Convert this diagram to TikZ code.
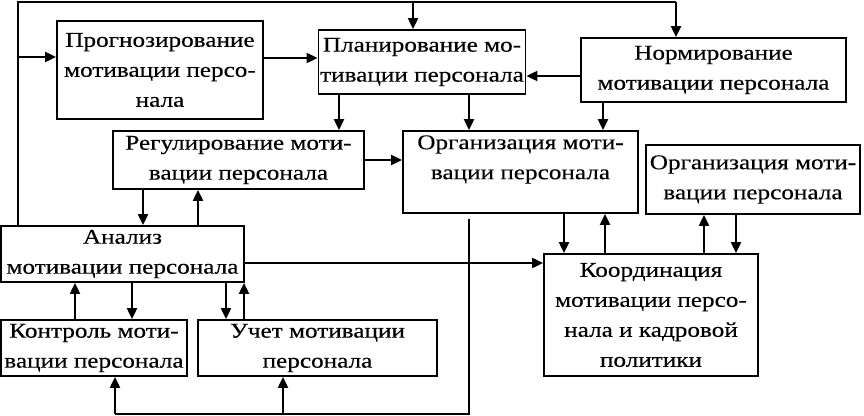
\documentclass[tikz,border=0pt]{standalone}
\usepackage{fontspec}
\setmainfont{Liberation Serif}[FakeStretch=1.2,FakeBold=0.3]
\usetikzlibrary{arrows.meta}
\begin{document}
\begin{tikzpicture}[x=1pt,y=-1pt,
  box/.style={draw,line width=1.8pt,inner sep=0pt,align=center,font=\fontsize{21}{30}\selectfont},
  txt/.style={inner sep=0pt,align=center,font=\fontsize{21}{30}\selectfont},
  conn/.style={line width=2pt},
  arr/.style={line width=2pt,-{Triangle[length=11pt,width=10pt]}}]
\useasboundingbox (0,0) rectangle (864,415);
% boxes
\node[box,minimum width=206pt,minimum height=98pt] (prog) at (160,70) {Прогнозирование\\мотивации персо-\\нала};
\node[box,minimum width=207pt,minimum height=64pt] (plan) at (422,62) {Планирование мо-\\тивации персонала};
\node[box,minimum width=265pt,minimum height=64pt] (norm) at (713.5,70) {Нормирование\\мотивации персонала};
\node[box,minimum width=251pt,minimum height=58pt] (reg) at (238.5,160) {Регулирование моти-\\вации персонала};
\node[box,minimum width=235pt,minimum height=82pt] (orgc) at (520.5,172) {};
\node[txt,anchor=north] (orgct) at ([yshift=-5pt]orgc.north) {Организация моти-\\вации персонала};
\node[box,minimum width=214pt,minimum height=69pt] (orgr) at (753,179.5) {Организация моти-\\вации персонала};
\node[box,minimum width=243pt,minimum height=56pt] (anal) at (122.5,254) {Анализ\\мотивации персонала};
\node[box,minimum width=214pt,minimum height=122pt] (koord) at (651,315) {Координация\\мотивации персо-\\нала и кадровой\\политики};
\node[box,minimum width=186pt,minimum height=56pt] (kontr) at (94,348) {Контроль моти-\\вации персонала};
\node[box,minimum width=239pt,minimum height=56pt] (uchet) at (317.5,348) {Учет мотивации\\персонала};
% helper coordinates
\coordinate (tl) at (18,2);
\coordinate (tr) at (676,2);
\coordinate (tm) at (413,2);
\coordinate (yprog) at (0,57);
\coordinate (ypp) at (0,58);
\coordinate (ynp) at (0,76);
\coordinate (xpr) at (339,0);
\coordinate (xpo) at (469,0);
\coordinate (xno) at (603,0);
\coordinate (xra) at (143,0);
\coordinate (xar) at (198,0);
\coordinate (yak) at (0,263);
\coordinate (xak) at (132,0);
\coordinate (xka) at (75,0);
\coordinate (xau) at (226,0);
\coordinate (xua) at (244,0);
\coordinate (gs) at (469,219);
\coordinate (gb) at (469,414);
\coordinate (gl) at (115,414);
\coordinate (gm) at (283,414);
\coordinate (xok) at (564,0);
\coordinate (xko) at (605,0);
\coordinate (xkr) at (704,0);
\coordinate (xrk) at (736,0);
% top loop
\draw[conn] (tl |- anal.north) -- (tl) -- (tr);
\draw[arr] (tr) -- (tr |- norm.north);
\draw[arr] (tm) -- (tm |- plan.north);
\draw[arr] (yprog -| tl) -- (yprog -| prog.west);
% top row connections
\draw[arr] (ypp -| prog.east) -- (ypp -| plan.west);
\draw[arr] (ynp -| norm.west) -- (ynp -| plan.east);
\draw[arr] (xpr |- plan.south) -- (xpr |- reg.north);
\draw[arr] (xpo |- plan.south) -- (xpo |- orgc.north);
\draw[arr] (xno |- norm.south) -- (xno |- orgc.north);
\draw[arr] (reg.east) -- (reg.east -| orgc.west);
% regulation <-> analysis
\draw[arr] (xra |- reg.south) -- (xra |- anal.north);
\draw[arr] (xar |- anal.north) -- (xar |- reg.south);
% analysis -> coordination
\draw[arr] (yak -| anal.east) -- (yak -| koord.west);
% analysis <-> control / accounting
\draw[arr] (xak |- anal.south) -- (xak |- kontr.north);
\draw[arr] (xka |- kontr.north) -- (xka |- anal.south);
\draw[arr] (xau |- anal.south) -- (xau |- uchet.north);
\draw[arr] (xua |- uchet.north) -- (xua |- anal.south);
% bottom loop from organization
\draw[conn] (gs) -- (gb) -- (gl);
\draw[arr] (gl) -- (gl |- kontr.south);
\draw[arr] (gm) -- (gm |- uchet.south);
% organization <-> coordination
\draw[arr] (xok |- orgc.south) -- (xok |- koord.north);
\draw[arr] (xko |- koord.north) -- (xko |- orgc.south);
\draw[arr] (xkr |- koord.north) -- (xkr |- orgr.south);
\draw[arr] (xrk |- orgr.south) -- (xrk |- koord.north);
\end{tikzpicture}
\end{document}
